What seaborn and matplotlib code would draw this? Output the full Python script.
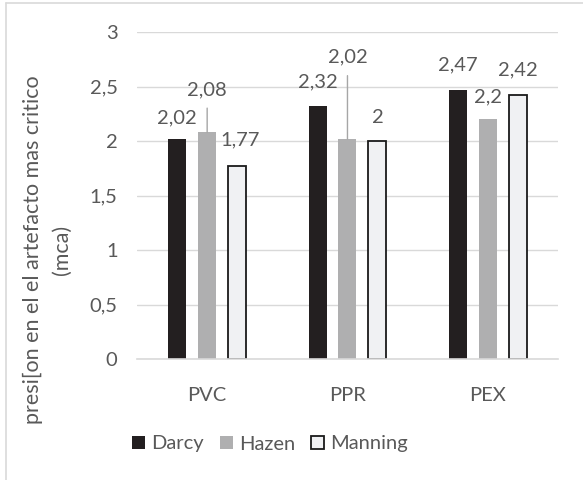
import matplotlib
matplotlib.use('Agg')
import matplotlib.pyplot as plt
import seaborn as sns
import pandas as pd
from matplotlib.lines import Line2D

# data
materials = ['PVC', 'PPR', 'PEX']
methods = ['Darcy', 'Hazen', 'Manning']
darcy = [2.02, 2.32, 2.47]
hazen = [2.08, 2.02, 2.2]
manning = [1.77, 2.0, 2.42]
y_ticks = [0, 0.5, 1, 1.5, 2, 2.5, 3]

df = pd.DataFrame({
    'material': materials * 3,
    'method': [m for m in methods for _ in materials],
    'value': darcy + hazen + manning,
})

# label offsets (pixels) from bar top, per method / material; True = leader line
label_offsets = {
    'Darcy': [(0, 21, False), (0, 24, False), (0, 25, False)],
    'Hazen': [(0, 43, True), (0, 82, True), (0, 22, False)],
    'Manning': [(3, 26, False), (0, 24, False), (0, 25, False)],
}

text_col = '#595959'
grid_col = '#d9d9d9'
colors = {'Darcy': '#231f20', 'Hazen': '#afafb0', 'Manning': '#f0f1f3'}
fs = 14.5

sns.set_style('white')
plt.rcParams['font.family'] = ['Lato', 'DejaVu Sans']

fig = plt.figure(figsize=(5.83, 4.8), dpi=100)
ax = fig.add_axes([0.235, 0.252, 0.722, 0.681])

sns.barplot(data=df, x='material', y='value', hue='method', hue_order=methods,
            order=materials, palette=colors, width=0.64, gap=0.4,
            saturation=1, ax=ax, legend=False)

for cont, m in zip(ax.containers, methods):
    for bar in cont:
        if m == 'Manning':
            bar.set_edgecolor('#1a1a1a')
            bar.set_linewidth(1.3)
        else:
            bar.set_edgecolor('none')

# data labels
for cont, m, vals in zip(ax.containers, methods, [darcy, hazen, manning]):
    for bar, v, (dx, dy, lead) in zip(cont, vals, label_offsets[m]):
        x = bar.get_x() + bar.get_width() / 2
        txt = f'{v:g}'.replace('.', ',')
        props = dict(arrowstyle='-', color='#a6a6a6', lw=1, relpos=(0.5, 0),
                     shrinkA=5, shrinkB=0) if lead else None
        ax.annotate(txt, xy=(x, v), xytext=(dx, dy), textcoords='offset pixels',
                    ha='center', va='center', fontsize=fs, color=text_col,
                    arrowprops=props)

ax.set_ylim(0, 3)
ax.set_yticks(y_ticks)
ax.set_yticklabels([f'{t:g}'.replace('.', ',') for t in y_ticks])
ax.set_xlim(-0.5, 2.5)
ax.yaxis.grid(True, color=grid_col, lw=1)
ax.set_axisbelow(True)
for s in ['top', 'right', 'left']:
    ax.spines[s].set_visible(False)
ax.spines['bottom'].set_color(grid_col)
ax.spines['bottom'].set_linewidth(1.2)
ax.tick_params(axis='y', length=0, pad=14, labelsize=fs, labelcolor=text_col)
ax.tick_params(axis='x', length=0, pad=20, labelsize=fs, labelcolor=text_col)
ax.set_xlabel('')
ax.set_ylabel('')

fig.text(33 / 583, 0.479, 'presi[on en el el artefacto mas critico',
         rotation=90, ha='center', va='center', fontsize=15.5, color=text_col)
fig.text(62 / 583, 0.479, '(mca)',
         rotation=90, ha='center', va='center', fontsize=15.5, color=text_col)

handles = [plt.Rectangle((0, 0), 1, 1, facecolor=colors[m],
                         edgecolor='#1a1a1a' if m == 'Manning' else 'none', lw=1.3)
           for m in methods]
fig.legend(handles, methods, loc='center', bbox_to_anchor=(0.463, 0.075), ncol=3,
           frameon=False, fontsize=fs, labelcolor=text_col, handlelength=0.65,
           handleheight=0.65, handletextpad=0.3, columnspacing=0.8)

# chart border (only top and left edges visible)
fig.add_artist(Line2D([6 / 583, 1], [1 - 3 / 480, 1 - 3 / 480], color=grid_col, lw=1.2))
fig.add_artist(Line2D([6 / 583, 6 / 583], [0, 1 - 3 / 480], color=grid_col, lw=1.2))

fig.savefig('out.png', dpi=100)
